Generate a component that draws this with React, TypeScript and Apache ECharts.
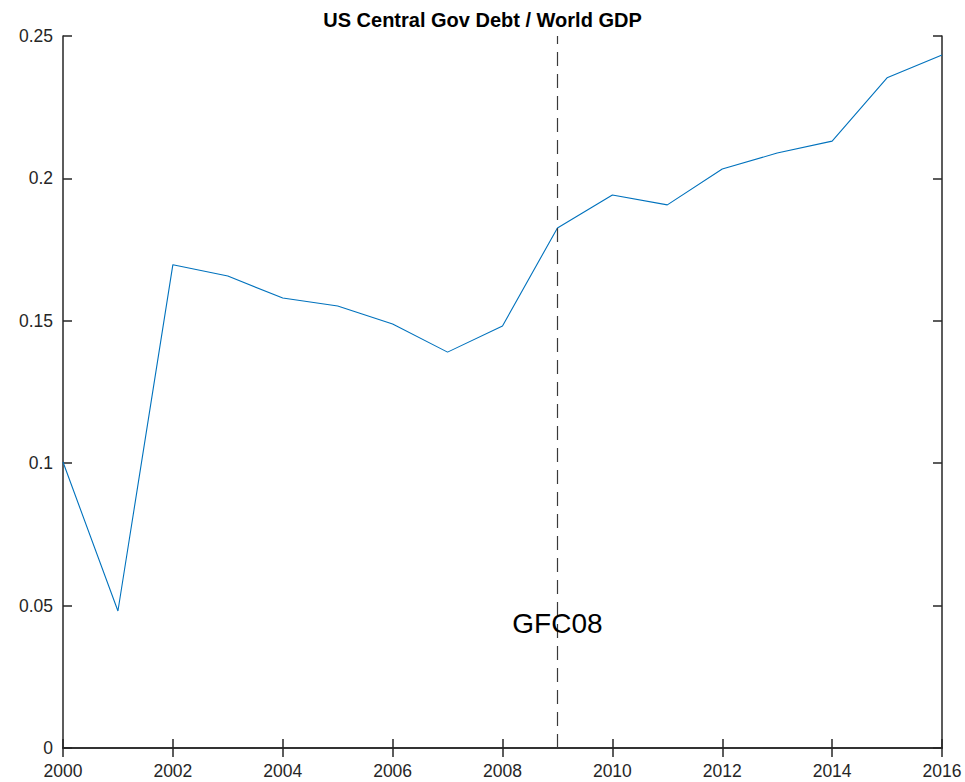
import React, { useEffect, useRef } from "react";
import * as echarts from "echarts";

// Ratio of US central government debt to world GDP, yearly
const years: number[] = [
  2000, 2001, 2002, 2003, 2004, 2005, 2006, 2007, 2008,
  2009, 2010, 2011, 2012, 2013, 2014, 2015, 2016,
];
const debtToWorldGdp: number[] = [
  0.1004, 0.0481, 0.1697, 0.1657, 0.158, 0.1552, 0.1489, 0.139, 0.1482,
  0.1826, 0.1942, 0.1907, 0.2033, 0.2089, 0.2131, 0.2353, 0.2433,
];

const crisisYear = 2009;
const crisisLabel = "GFC08";
const crisisLabelValue = 0.0437;

const xTicks = { min: 2000, max: 2016, interval: 2 };
const yTicks = { min: 0, max: 0.25, interval: 0.05 };

const AXIS_COLOR = "#262626";
const FONT = "'Liberation Sans', Arial, Helvetica, sans-serif";

export default function App() {
  const ref = useRef<HTMLDivElement>(null);

  useEffect(() => {
    if (!ref.current) return;
    const chart = echarts.init(ref.current, undefined, { renderer: "svg" });

    const axisLine = { show: true, lineStyle: { color: AXIS_COLOR, width: 1.5 } };
    const axisTick = {
      show: true,
      inside: true,
      length: 9,
      lineStyle: { color: AXIS_COLOR, width: 1.5 },
    };

    chart.setOption({
      animation: false,
      backgroundColor: "#ffffff",
      title: {
        text: "US Central Gov Debt / World GDP",
        left: "center",
        top: 5,
        textStyle: {
          fontFamily: FONT,
          fontWeight: "bold",
          fontSize: 20,
          color: "#000000",
        },
      },
      grid: { left: 63, right: 23, top: 36, bottom: 34, containLabel: false },
      xAxis: [
        {
          type: "value",
          position: "bottom",
          ...xTicks,
          axisLine,
          axisTick,
          splitLine: { show: false },
          axisLabel: {
            margin: 14,
            fontFamily: FONT,
            fontSize: 17.5,
            color: AXIS_COLOR,
            formatter: (v: number) => String(v),
          },
        },
        {
          type: "value",
          position: "top",
          ...xTicks,
          axisLine,
          axisTick,
          splitLine: { show: false },
          axisLabel: { show: false },
        },
      ],
      yAxis: [
        {
          type: "value",
          position: "left",
          ...yTicks,
          axisLine,
          axisTick,
          splitLine: { show: false },
          axisLabel: {
            margin: 10,
            fontFamily: FONT,
            fontSize: 17.5,
            color: AXIS_COLOR,
            formatter: (v: number) => String(Number(v.toFixed(2))),
          },
        },
        {
          type: "value",
          position: "right",
          ...yTicks,
          axisLine,
          axisTick,
          splitLine: { show: false },
          axisLabel: { show: false },
        },
      ],
      series: [
        {
          type: "line",
          data: years.map((y, i) => [y, debtToWorldGdp[i]]),
          showSymbol: false,
          symbol: "none",
          lineStyle: { color: "#0072BD", width: 1.1 },
          markLine: {
            silent: true,
            symbol: "none",
            label: { show: false },
            lineStyle: { color: "#3a3a3a", width: 1.2, type: [14, 8] },
            data: [{ xAxis: crisisYear }],
          },
          markPoint: {
            silent: true,
            symbol: "circle",
            symbolSize: 0,
            label: {
              show: true,
              position: "inside",
              formatter: crisisLabel,
              fontFamily: FONT,
              fontSize: 28,
              color: "#000000",
            },
            data: [{ coord: [crisisYear, crisisLabelValue] }],
          },
        },
      ],
    });

    return () => chart.dispose();
  }, []);

  return (
    <div
      ref={ref}
      style={{ position: "absolute", left: 0, top: 0, width: 965, height: 782 }}
    />
  );
}
